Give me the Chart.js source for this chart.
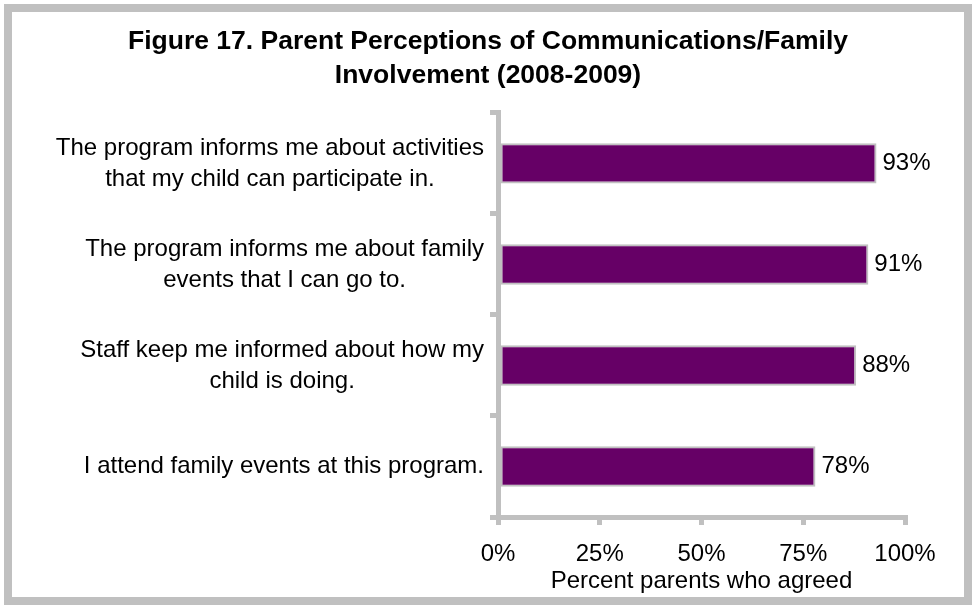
<!DOCTYPE html>
<html>
<head>
<meta charset="utf-8">
<script src="https://cdn.jsdelivr.net/npm/chart.js@4.4.1/dist/chart.umd.min.js"></script>
<style>
  body { margin: 0; background: #fff; }
  #frame {
    position: absolute; left: 4px; top: 4px;
    width: 952px; height: 585px;
    border: 8px solid #c0c0c0; background: #fff;
  }
  canvas { display: block; }
</style>
</head>
<body>
<div id="frame"><canvas id="parentChart" width="952" height="585"></canvas></div>
<script>
// Figure 17 data
const titleLines = ['Figure 17. Parent Perceptions of Communications/Family', 'Involvement (2008-2009)'];
const categories = [
  ['The program informs me about activities', 'that my child can participate in.'],
  ['The program informs me about family', 'events that I can go to.'],
  ['Staff keep me informed about how my', 'child is doing.'],
  ['I attend family events at this program.']
];
const agreedPct = [93, 91, 88, 78];
const tickValues = [0, 25, 50, 75, 100];
const axisTitle = 'Percent parents who agreed';

const FONT = '"Liberation Sans", Arial, sans-serif';
const GREY = '#c0c0c0';
Chart.defaults.font.family = FONT;
Chart.defaults.color = '#000';

// category labels: block right-aligned next to the axis, lines centred inside it
const categoryLabels = {
  id: 'categoryLabels',
  afterDraw(chart) {
    const { ctx } = chart;
    const yScale = chart.scales.y;
    const right = yScale.right - 14;
    const lineH = 31;
    ctx.save();
    ctx.font = '24px ' + FONT;
    ctx.fillStyle = '#000';
    ctx.textAlign = 'center';
    ctx.textBaseline = 'middle';
    categories.forEach((lines, i) => {
      const yc = yScale.getPixelForValue(i);
      const widest = Math.max(...lines.map(l => ctx.measureText(l).width));
      const cx = right - widest / 2;
      lines.forEach((line, j) => {
        ctx.fillText(line, cx, yc + (j - (lines.length - 1) / 2) * lineH);
      });
    });
    ctx.restore();
  }
};

// percentage printed just past the end of each bar
const valueLabels = {
  id: 'valueLabels',
  afterDatasetsDraw(chart) {
    const { ctx } = chart;
    const meta = chart.getDatasetMeta(0);
    ctx.save();
    ctx.font = '24px ' + FONT;
    ctx.fillStyle = '#000';
    ctx.textAlign = 'left';
    ctx.textBaseline = 'middle';
    meta.data.forEach((bar, i) => {
      ctx.fillText(agreedPct[i] + '%', bar.x + 6, bar.y);
    });
    ctx.restore();
  }
};

new Chart(document.getElementById('parentChart'), {
  type: 'bar',
  data: {
    labels: categories,
    datasets: [{
      data: agreedPct,
      backgroundColor: '#660066',
      borderColor: GREY,
      borderWidth: 2,
      borderSkipped: false,
      categoryPercentage: 1,
      barPercentage: 0.4
    }]
  },
  options: {
    indexAxis: 'y',
    responsive: false,
    animation: false,
    layout: { padding: 0 },
    plugins: {
      legend: { display: false },
      tooltip: { enabled: false },
      title: {
        display: true,
        text: titleLines,
        font: { size: 26.5, weight: 'bold', lineHeight: 1.3 },
        color: '#000',
        padding: { top: 12, bottom: 20 }
      }
    },
    scales: {
      x: {
        min: 0,
        max: 100,
        afterFit(scale) { scale.height = 80; },
        afterBuildTicks(scale) { scale.ticks = tickValues.map(v => ({ value: v })); },
        ticks: {
          font: { size: 24 },
          color: '#000',
          padding: 15,
          callback: v => v + '%'
        },
        grid: {
          drawOnChartArea: false,
          color: GREY,
          lineWidth: 5,
          tickLength: 8
        },
        border: { color: GREY, width: 5 },
        title: {
          display: true,
          text: axisTitle,
          font: { size: 24 },
          color: '#000',
          padding: { top: 0, bottom: 1 }
        }
      },
      y: {
        afterFit(scale) { scale.width = 486; },
        ticks: { display: false },
        grid: {
          offset: true,
          drawOnChartArea: false,
          color: GREY,
          lineWidth: 5,
          tickLength: 8
        },
        border: { color: GREY, width: 5 }
      },
      // empty right-hand axis: keeps room for the value labels
      yRight: {
        axis: 'y',
        position: 'right',
        afterFit(scale) { scale.width = 59; },
        ticks: { display: false },
        grid: { display: false },
        border: { display: false }
      }
    }
  },
  plugins: [categoryLabels, valueLabels]
});
</script>
</body>
</html>
